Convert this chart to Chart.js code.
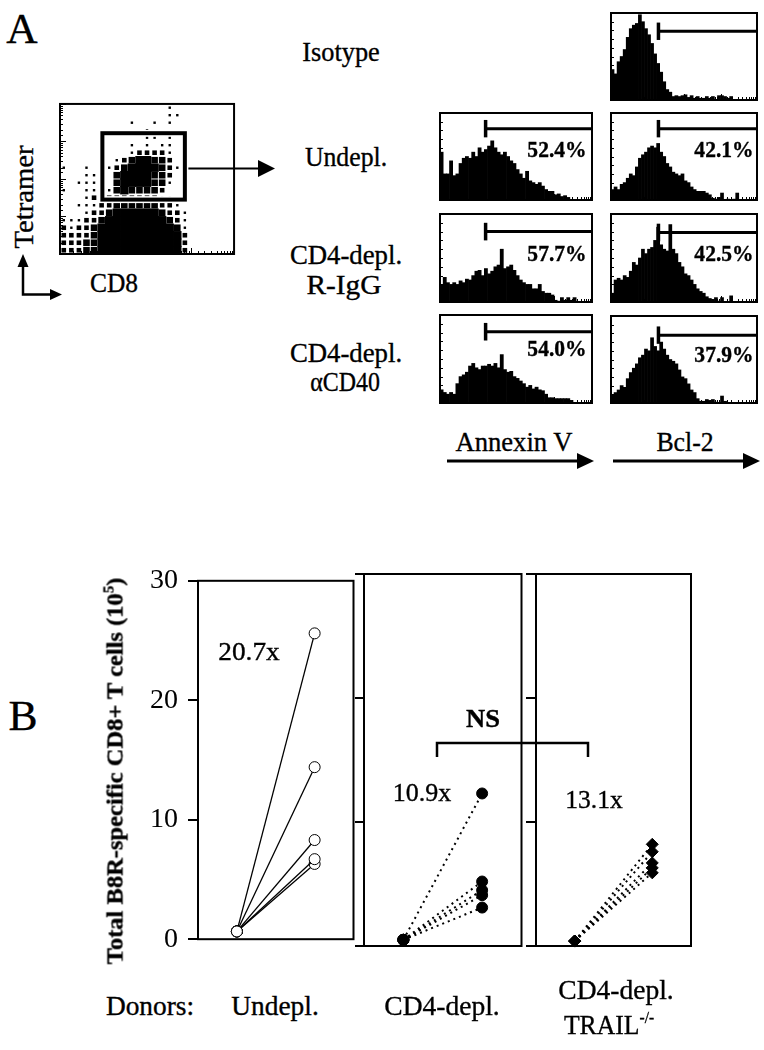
<!DOCTYPE html>
<html>
<head>
<meta charset="utf-8">
<script src="https://cdn.jsdelivr.net/npm/chart.js@4.4.0/dist/chart.umd.min.js"></script>
<style>
  body { margin: 0; background: #fff; }
  #page { position: relative; width: 764px; height: 1050px; overflow: hidden; font-family: "Liberation Serif", "Times New Roman", serif; }
  canvas { position: absolute; }
  .t { position: absolute; white-space: nowrap; line-height: 1; color: #000; -webkit-text-stroke: 0.35px #000; }
  .t sup { font-size: 0.6em; vertical-align: 0.65em; line-height: 0; }
  svg { position: absolute; left: 0; top: 0; }
</style>
</head>
<body>
<div id="page">
  <svg width="764" height="1050">
    <!-- gate arrow -->
    <line x1="186" y1="168.5" x2="260" y2="168.5" stroke="#000" stroke-width="2"/>
    <polygon points="258,160 275,168.5 258,177" fill="#000"/>
    <!-- axis arrows -->
    <polyline points="23,264 23,294.5 51,294.5" fill="none" stroke="#000" stroke-width="2.5"/>
    <polygon points="17.5,267 23,254 28.5,267" fill="#000"/>
    <polygon points="50,289 62,294.5 50,300" fill="#000"/>
    <!-- Annexin V / Bcl-2 arrows -->
    <line x1="447" y1="461" x2="580" y2="461" stroke="#000" stroke-width="3"/>
    <polygon points="577,453 594,461 577,469" fill="#000"/>
    <line x1="613" y1="461" x2="746" y2="461" stroke="#000" stroke-width="3"/>
    <polygon points="743,453 760,461 743,469" fill="#000"/>
    <!-- NS bracket -->
    <path d="M437,757 V743 H588 V757" fill="none" stroke="#000" stroke-width="2.5"/>
  </svg>
</div>
<script>
// ---- panel A: dot plot, density per 8px cell (0 empty .. 4 solid), rows top to bottom
const dotRows = [
  "00000000000000100000000",
  "00000000000000110000000",
  "00000000010010100000000",
  "00000000000100000000000",
  "00000000000110100000000",
  "00000000010101100000000",
  "00000000012222100000000",
  "00000001234433200000000",
  "10010012344443210000000",
  "00011003444433200000000",
  "00111003444433100000000",
  "10011113433332000000000",
  "00012122222221100000000",
  "00111223333332210000000",
  "00012234444443221000000",
  "11122344444444321000000",
  "21223444444444431000000",
  "22223444444444442000000",
  "22233444444444442000000",
  "22233444444444442000000"
];
const dotGateX = [5.6, 16.5];
const dotGateY = [7.25, 16.1];

// ---- panel A: histograms (fraction of box height per bin)
const histIsoBcl = [0.35,0.3,0.44,0.5,0.58,0.72,0.82,0.86,0.88,0.98,0.9,0.82,0.75,0.65,0.53,0.42,0.32,0.21,0.12,0.09,
  0.04,0.05,0.04,0.05,0.06,0.03,0.05,0.02,0.04,0.02,0.02,0.04,0.02,0.04,0,0.05,0.05,0.04,0.02,0.04,0,0,0,0,0,0,0,0];
const histUndeplAnx = [0.55,0.3,0.3,0.45,0.28,0.3,0.42,0.48,0.5,0.48,0.55,0.5,0.6,0.55,0.58,0.62,0.68,0.6,0.55,0.52,
  0.55,0.5,0.45,0.42,0.35,0.3,0.25,0.33,0.22,0.2,0.18,0.2,0.16,0.12,0.1,0.1,0.06,0.07,0.04,0.05,0.03,0,0,0,0,0,0,0];
const histUndeplBcl = [0.12,0.15,0.12,0.18,0.2,0.25,0.3,0.28,0.38,0.48,0.52,0.55,0.6,0.62,0.6,0.65,0.55,0.5,0.42,0.38,
  0.32,0.3,0.28,0.3,0.22,0.2,0.15,0.12,0.1,0.1,0.1,0.08,0.06,0.02,0.01,0.03,0.08,0,0.01,0,0.01,0.08,0,0,0,0,0,0];
const histIggAnx = [0.2,0.28,0.22,0.2,0.22,0.2,0.24,0.22,0.26,0.25,0.3,0.35,0.36,0.3,0.38,0.32,0.35,0.4,0.42,0.6,
  0.38,0.4,0.42,0.36,0.3,0.25,0.22,0.2,0.2,0.15,0.15,0.2,0.12,0.1,0.1,0.08,0.02,0.01,0.05,0.02,0.05,0.02,0.05,0,0,0,0,0];
const histIggBcl = [0.1,0.25,0.27,0.25,0.3,0.28,0.35,0.45,0.42,0.5,0.6,0.55,0.6,0.62,0.7,0.85,0.65,0.6,0.58,0.88,
  0.6,0.55,0.45,0.4,0.32,0.3,0.25,0.2,0.15,0.12,0.1,0.06,0.04,0.03,0.05,0.01,0.05,0,0,0.07,0,0,0,0,0,0,0,0];
const histCd40Anx = [0.15,0.12,0.1,0.12,0.1,0.22,0.3,0.32,0.35,0.42,0.45,0.4,0.38,0.42,0.42,0.44,0.42,0.45,0.4,0.55,
  0.38,0.35,0.36,0.3,0.28,0.25,0.22,0.18,0.2,0.16,0.18,0.15,0.14,0.1,0.06,0.06,0.05,0.05,0.05,0.05,0.05,0.03,0,0,0,0,0,0];
const histCd40Bcl = [0.1,0.12,0.15,0.2,0.18,0.28,0.35,0.4,0.45,0.52,0.55,0.62,0.6,0.75,0.65,0.6,0.7,0.62,0.55,0.5,
  0.48,0.45,0.38,0.3,0.28,0.22,0.15,0.12,0.05,0.02,0.02,0.04,0.03,0.04,0.01,0,0.08,0.02,0,0,0,0,0,0,0,0,0,0];
const gateAnx = 13.9;   // bin where the positive gate starts
const gateBcl = 15.1;
const pctLabels = ['52.4%', '42.1%', '57.7%', '42.5%', '54.0%', '37.9%'];

// ---- panel B
const bTicks = [0, 10, 20, 30];
const undeplStart = [0.65, 0.65, 0.65, 0.65, 0.65];
const undeplEnd = [25.6, 14.4, 8.3, 6.7, 6.3];
const cd4Start = [0.5, 0.5, 0.5, 0.5, 0.5];
const cd4End = [12.3, 5.2, 4.5, 4.1, 3.1];
const trailStart = [0.4, 0.4, 0.4, 0.4, 0.4];
const trailEnd = [8.2, 7.6, 6.7, 6.3, 5.9];
const foldLabels = ['20.7x', '10.9x', '13.1x'];
const donorLabels = ['Undepl.', 'CD4-depl.', 'CD4-depl.'];

Chart.defaults.animation = false;
Chart.defaults.responsive = false;
Chart.defaults.events = [];
Chart.defaults.plugins.legend.display = false;
Chart.defaults.plugins.tooltip.enabled = false;

const page = document.getElementById('page');
const serif = '"Liberation Serif", "Times New Roman", serif';

function canvasAt(x, y, w, h) {
  const c = document.createElement('canvas');
  c.width = w; c.height = h;
  c.style.left = x + 'px'; c.style.top = y + 'px';
  c.style.width = w + 'px'; c.style.height = h + 'px';
  page.appendChild(c);
  return c;
}

function isDecade(v) {
  const l = Math.log10(v);
  return isFinite(l) && Math.abs(l - Math.round(l)) < 1e-9;
}

// box around the plot area + small inward ticks from the helper axes
const frame = {
  id: 'frame',
  defaults: { width: 2 },
  afterDraw(chart, args, opts) {
    const { ctx, chartArea: a } = chart;
    ctx.save();
    ctx.strokeStyle = '#000';
    ctx.lineWidth = opts.width;
    ctx.strokeRect(a.left, a.top, a.right - a.left, a.bottom - a.top);
    ctx.lineWidth = 1;
    ctx.beginPath();
    const lx = chart.scales.lx, ly = chart.scales.ly;
    if (lx) lx.ticks.forEach(t => {
      const p = Math.round(lx.getPixelForValue(t.value)) + 0.5;
      const len = isDecade(t.value) ? 6 : 3;
      ctx.moveTo(p, a.bottom); ctx.lineTo(p, a.bottom - len);
    });
    if (ly) ly.ticks.forEach(t => {
      const p = Math.round(ly.getPixelForValue(t.value)) + 0.5;
      const len = isDecade(t.value) ? 6 : 3;
      ctx.moveTo(a.left, p); ctx.lineTo(a.left + len, p);
    });
    ctx.stroke();
    ctx.restore();
  }
};

function helperAxis(type, pos, min, max) {
  return {
    type: type, position: pos, min: min, max: max,
    ticks: { display: false, stepSize: type === 'linear' ? 0.1 : undefined },
    grid: { display: false }, border: { display: false }
  };
}

// ---- dot plot
const dotGate = {
  id: 'dotGate',
  afterDatasetsDraw(chart) {
    const { ctx, scales: { x, y } } = chart;
    const l = x.getPixelForValue(dotGateX[0]), r = x.getPixelForValue(dotGateX[1]);
    const t = y.getPixelForValue(dotGateY[1]), b = y.getPixelForValue(dotGateY[0]);
    ctx.save();
    ctx.strokeStyle = '#fff'; ctx.lineWidth = 7;
    ctx.strokeRect(l, t, r - l, b - t);
    ctx.strokeStyle = '#000'; ctx.lineWidth = 4;
    ctx.strokeRect(l, t, r - l, b - t);
    ctx.restore();
  }
};

// denser cells get bigger black squares, so sparse areas stay speckled
const dotSide = [0, 2.4, 4.6, 6.6, 8.4];
const dotSets = [1, 2, 3, 4].map(level => {
  const pts = [];
  dotRows.forEach((row, r) => {
    for (let c = 0; c < row.length; c++) {
      if (+row[c] === level) pts.push({ x: c + 0.5, y: dotRows.length - r - 0.5 });
    }
  });
  return { data: pts, backgroundColor: '#000', pointStyle: 'rect', pointRadius: dotSide[level] / Math.SQRT2, borderWidth: 0 };
});

new Chart(canvasAt(48, 98, 192, 168), {
  type: 'scatter',
  data: { datasets: dotSets },
  options: {
    layout: { padding: 4 },
    scales: {
      x: { type: 'linear', min: 0, max: dotRows[0].length, display: false },
      y: { type: 'linear', min: 0, max: dotRows.length, display: false },
      lx: helperAxis('logarithmic', 'bottom', 1, 10000),
      ly: helperAxis('logarithmic', 'left', 1, 10000)
    }
  },
  plugins: [frame, dotGate]
});

// ---- histograms
const histGate = {
  id: 'histGate',
  afterDatasetsDraw(chart, args, o) {
    const { ctx, chartArea: a, scales: { x, y } } = chart;
    const gx = x.getPixelForValue(o.value);
    const gy = y.getPixelForValue(o.level);
    const half = (y.getPixelForValue(0) - y.getPixelForValue(0.1));
    ctx.save();
    ctx.strokeStyle = '#000';
    ctx.lineWidth = 3;
    ctx.beginPath();
    ctx.moveTo(gx, gy); ctx.lineTo(a.right, gy);
    ctx.stroke();
    ctx.lineWidth = 3.5;
    ctx.beginPath();
    ctx.moveTo(gx, gy - half); ctx.lineTo(gx, gy + half);
    ctx.stroke();
    ctx.restore();
  }
};

function hist(x, y, w, h, values, gate, level) {
  new Chart(canvasAt(x - 2, y - 2, w + 4, h + 4), {
    type: 'bar',
    data: {
      labels: values.map((v, i) => i),
      datasets: [{ data: values, backgroundColor: '#000', borderWidth: 0, barPercentage: 1, categoryPercentage: 1 }]
    },
    options: {
      layout: { padding: 2 },
      plugins: { histGate: { value: gate, level: level } },
      scales: {
        x: { display: false },
        y: { display: false, min: 0, max: 1 },
        lx: helperAxis('logarithmic', 'bottom', 1, 10000),
        ly: helperAxis('linear', 'left', 0, 1)
      }
    },
    plugins: [frame, histGate]
  });
}

hist(603, 13, 154, 95, histIsoBcl, gateBcl, 0.79);
hist(432, 113, 160, 95, histUndeplAnx, gateAnx, 0.82);
hist(603, 113, 154, 95, histUndeplBcl, gateBcl, 0.82);
hist(432, 214, 160, 96, histIggAnx, gateAnx, 0.80);
hist(603, 214, 154, 96, histIggBcl, gateBcl, 0.79);
hist(432, 315, 160, 96, histCd40Anx, gateAnx, 0.81);
hist(603, 316, 154, 95, histCd40Bcl, gateBcl, 0.78);

// ---- panel B
function donorSets(starts, ends, look) {
  return starts.map((s, i) => ({
    data: [{ x: 1, y: s }, { x: 3, y: ends[i] }],
    borderColor: '#000', borderWidth: look.lw, borderDash: look.dash, borderCapStyle: 'butt',
    pointStyle: look.shape, pointRadius: look.r, pointBackgroundColor: look.fill,
    pointBorderColor: '#000', pointBorderWidth: 1, tension: 0, fill: false
  }));
}

function panelB(left, width, axisW, tickLen, labels, sets) {
  new Chart(canvasAt(left, 554, width, 412), {
    type: 'line',
    data: { datasets: sets },
    options: {
      clip: false,
      layout: { padding: { left: 0, right: 5, top: 20, bottom: 20 } },
      plugins: { frame: { width: 2 } },
      scales: {
        x: { type: 'linear', min: 0, max: 4, display: false },
        y: {
          min: 0, max: 30,
          afterBuildTicks: s => { s.ticks = bTicks.map(v => ({ value: v })); },
          afterFit: s => { s.width = axisW; },
          ticks: { display: labels, color: '#000', padding: 10, font: { family: serif, size: 28 } },
          grid: { drawOnChartArea: false, drawTicks: true, tickLength: tickLen, color: '#000', lineWidth: 2 },
          border: { display: false }
        }
      }
    },
    plugins: [frame]
  });
}

panelB(90, 270, 108, 10, true,
  donorSets(undeplStart, undeplEnd, { lw: 1.3, dash: [], shape: 'circle', r: 5.5, fill: '#fff' }));
panelB(350, 178, 14, 9, false,
  donorSets(cd4Start, cd4End, { lw: 2, dash: [2, 4], shape: 'circle', r: 5.5, fill: '#000' }));
panelB(522, 176, 14, 10, false,
  donorSets(trailStart, trailEnd, { lw: 2, dash: [2, 4], shape: 'rectRot', r: 6, fill: '#000' }));

// ---- text
function txt(html, cx, cy, size, w, o) {
  o = o || {};
  const d = document.createElement('div');
  d.className = 't';
  d.innerHTML = html;
  d.style.fontSize = size + 'px';
  if (o.bold) d.style.fontWeight = 'bold';
  page.appendChild(d);
  const k = w ? w / d.offsetWidth : 1;
  d.style.left = cx + 'px';
  d.style.top = cy + 'px';
  d.style.transform = 'translate(-50%,-50%)' + (o.rot ? ' rotate(-90deg)' : '') + ' scaleX(' + k.toFixed(3) + ')';
}

txt('A', 22, 29, 42, 31);
txt('B', 23, 716, 42, 29);
txt('Tetramer', 24, 197, 27, 103, { rot: true });
txt('CD8', 114, 283, 27, 48);
txt('Isotype', 341, 52, 27, 77);
txt('Undepl.', 346, 157, 27, 82);
txt('CD4-depl.', 346, 255, 27, 112);
txt('R-IgG', 344, 285, 27, 75);
txt('CD4-depl.', 346, 353, 27, 112);
txt('\u03b1CD40', 345, 382, 27, 70);

const pctPos = [[586, 149], [753, 149], [586, 253], [753, 253], [586, 348], [753, 354]];
pctLabels.forEach((p, i) => txt(p, pctPos[i][0] - 29.5, pctPos[i][1], 23, 59, { bold: true }));

txt('Annexin V', 514, 442, 28, 117);
txt('Bcl-2', 685, 442, 28, 57);

txt('Total B8R-specific CD8+ T cells (10<sup>5</sup>)', 115, 771, 23, 387, { bold: true, rot: true });
txt(foldLabels[0], 249, 652, 26, 62);
txt(foldLabels[1], 422, 793, 26, 59);
txt(foldLabels[2], 594, 800, 26, 58);
txt('NS', 483, 718, 25, 34, { bold: true });

txt('Donors:', 150, 1006, 28, 88);
txt(donorLabels[0], 275, 1006, 28, 87);
txt(donorLabels[1], 442, 1006, 28, 115);
txt(donorLabels[2], 616, 990, 28, 115);
txt('TRAIL<sup>-/-</sup>', 609, 1025, 28, 90);
</script>
</body>
</html>
